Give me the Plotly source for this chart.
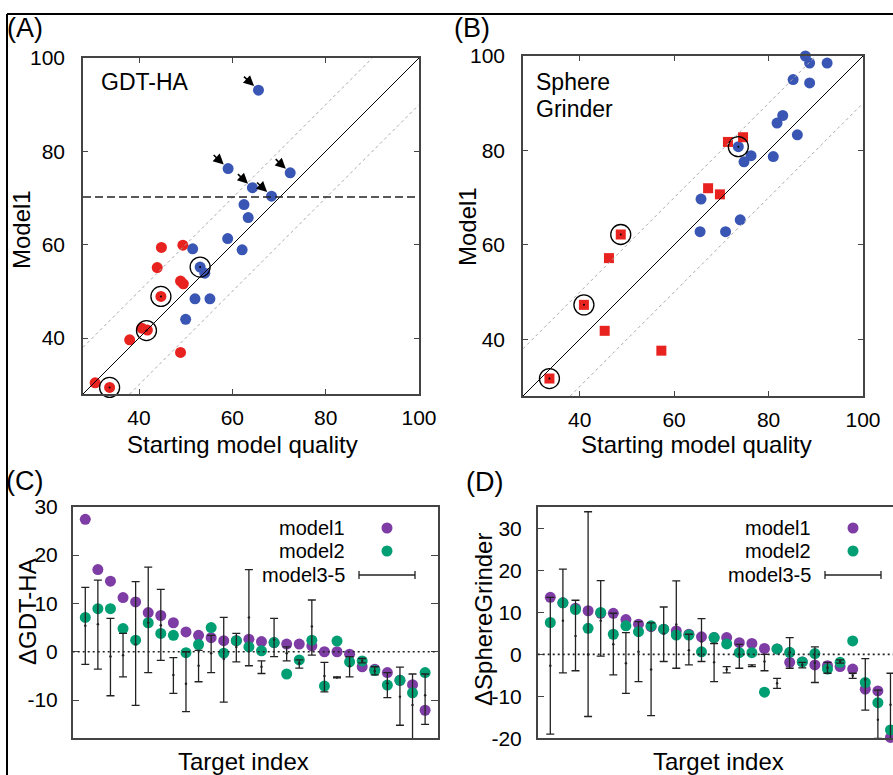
import plotly.graph_objects as go

W, H = 893, 775

# ---------------- data ----------------
# Panel A: GDT-HA, starting model quality vs Model1
a_blue_x = [65.6, 59.1, 72.4, 64.3, 68.4, 62.5, 63.4, 59.0, 62.1, 51.5, 53.1, 54.1, 52.0, 55.2, 50.0]
a_blue_y = [93.1, 76.3, 75.4, 72.2, 70.4, 68.6, 65.8, 61.3, 58.9, 59.1, 55.2, 53.9, 48.4, 48.4, 44.0]
a_red_x = [44.8, 49.4, 43.9, 48.9, 49.5, 44.7, 40.6, 41.8, 38.0, 48.9, 30.6, 33.7]
a_red_y = [59.4, 59.9, 55.1, 52.2, 51.6, 48.9, 42.1, 41.7, 39.6, 36.9, 30.4, 29.4]
a_circled_x = [53.1, 44.7, 41.6, 33.7]
a_circled_y = [55.2, 48.9, 41.6, 29.4]
a_arrow_x = [65.6, 59.1, 72.4, 64.3, 68.4]
a_arrow_y = [93.1, 76.3, 75.4, 72.2, 70.4]
a_threshold = 70.2

# Panel B: SphereGrinder
b_blue_x = [87.8, 88.7, 92.4, 85.2, 88.7, 83.0, 81.8, 86.1, 73.6, 76.3, 74.8, 81.0, 65.7, 65.5, 70.9, 74.0]
b_blue_y = [100.0, 98.5, 98.5, 95.0, 94.3, 87.4, 85.8, 83.3, 80.8, 78.9, 77.6, 78.7, 69.7, 62.8, 62.8, 65.3]
b_red_x = [71.4, 74.6, 67.2, 69.7, 48.7, 46.2, 40.9, 45.3, 57.3, 33.6]
b_red_y = [81.8, 82.8, 72.0, 70.7, 62.2, 57.2, 47.3, 41.8, 37.6, 31.7]
b_circled_x = [73.6, 48.7, 40.9, 33.6]
b_circled_y = [80.8, 62.2, 47.3, 31.7]

diag_offset = 10
sq_ticks = [40, 60, 80, 100]

# Panel C: delta GDT-HA per target
c_index = list(range(1, 29))
c_model1 = [27.4, 17.0, 14.6, 11.2, 10.3, 8.1, 7.5, 6.0, 4.1, 3.4, 2.9, 2.3, 2.3, 2.6, 2.1,
            1.9, 1.6, 1.6, 1.2, 0.0, 0.0, -0.5, -3.1, -3.6, -4.3, -5.9, -6.8, -12.1]
c_model2 = [7.1, 8.9, 8.9, 4.8, 2.4, 6.0, 3.8, 3.4, -0.2, 1.5, 5.0, -0.3, 2.3, 1.0, 0.2,
            1.9, -4.6, -1.7, 2.4, -7.1, 2.2, -2.1, -1.9, -3.9, -6.9, -5.9, -8.5, -4.3]
c_m35_mid = [5.4, 5.7, -1.0, -0.7, 1.5, 6.0, 5.5, -4.8, -6.6, -2.9, -0.3, -1.5, 1.0, 7.1,
             -3.1, 2.5, -0.3, -2.4, 5.2, -5.0, -5.3, -3.0, -1.9, -4.0, -6.5, -9.3, -11.0, -9.0]
c_m35_hi = [13.3, 14.8, 6.9, 3.8, 14.5, 17.5, 12.9, -1.2, 0.0, 0.3, 3.4, 7.1, 3.8, 17.0,
            -1.9, 6.9, 1.0, -1.7, 10.7, -2.2, -5.2, -1.0, -1.4, -3.1, -4.3, -3.2, -4.6, -4.6]
c_m35_lo = [-2.6, -3.6, -9.1, -5.2, -11.1, -4.3, -1.8, -8.6, -12.4, -6.2, -4.3, -10.4, -2.1, -2.9,
            -4.5, -1.0, -1.9, -3.4, -0.7, -8.3, -5.4, -5.2, -2.3, -4.8, -9.5, -15.2, -20.0, -15.0]
c_ticks = [-10, 0, 10, 20, 30]

# Panel D: delta SphereGrinder per target
d_index = list(range(1, 29))
d_model1 = [13.6, 12.3, 11.0, 10.4, 9.8, 9.8, 8.3, 7.2, 6.6, 6.0, 5.6, 4.8, 4.2, 4.0, 4.0,
            2.8, 2.6, 1.4, 1.3, -1.9, -1.8, -2.5, -2.7, -2.9, -3.5, -8.3, -8.7, -19.8]
d_model2 = [7.6, 12.3, 10.7, 6.2, 10.0, 4.8, 6.8, 5.4, 6.8, 6.0, 4.6, 4.6, 0.6, 4.0, 2.5,
            0.4, 0.4, -9.0, 1.3, 0.5, -1.8, 0.2, -3.5, -1.9, 3.2, -6.7, -11.5, -18.0]
d_m35_mid = [-2.7, 8.0, 4.4, 0.0, 8.0, 2.4, -2.1, 0.6, -3.6, 5.0, 7.1, 1.0, 3.0, -1.9, -3.6,
             0.0, -2.7, -1.7, -6.9, 0.5, -2.5, -2.0, -3.2, -1.7, -5.1, -6.0, -15.6, -12.0]
d_m35_hi = [13.6, 20.3, 12.9, 34.0, 17.6, 9.8, 5.2, 7.8, 7.5, 11.3, 17.5, 4.8, 8.5, 2.6, -2.9,
            2.4, -2.5, 0.0, -5.7, 4.0, -1.9, 1.8, -1.9, -1.3, -4.5, -1.0, -8.5, -4.5]
d_m35_lo = [-19.0, -4.4, -3.9, -14.8, -0.4, -4.9, -9.3, -6.5, -14.6, -1.7, -3.3, -2.5, -1.7, -6.5, -4.4,
            -3.3, -2.9, -3.9, -8.1, -3.3, -3.2, -6.7, -4.5, -2.1, -5.7, -13.3, -20.0, -21.0]
d_ticks = [-20, -10, 0, 10, 20, 30]

legend_labels = ["model1", "model2", "model3-5"]

# ---------------- style ----------------
BLUE = "#3a56b4"
RED = "#e8221e"
PURPLE = "#7e3da4"
GREEN = "#009e73"
FONT = "Liberation Sans, Arial, sans-serif"
TICK_FONT = dict(family=FONT, size=21, color="black")
FRAME = "#444444"


def px(x):
    return x / W


def py(y):
    return 1 - y / H


fig = go.Figure()

# ---- Panel A ----
fig.add_trace(go.Scatter(x=a_blue_x, y=a_blue_y, mode="markers", xaxis="x", yaxis="y",
                         marker=dict(size=11, color=BLUE), cliponaxis=False, showlegend=False))
fig.add_trace(go.Scatter(x=a_red_x, y=a_red_y, mode="markers", xaxis="x", yaxis="y",
                         marker=dict(size=11, color=RED), cliponaxis=False, showlegend=False))
fig.add_trace(go.Scatter(x=a_circled_x, y=a_circled_y, mode="markers", xaxis="x", yaxis="y",
                         marker=dict(size=20, symbol="circle-open", color="black",
                                     line=dict(width=1.3, color="black")),
                         cliponaxis=False, showlegend=False))

# ---- Panel B ----
fig.add_trace(go.Scatter(x=b_blue_x, y=b_blue_y, mode="markers", xaxis="x2", yaxis="y2",
                         marker=dict(size=11, color=BLUE), cliponaxis=False, showlegend=False))
fig.add_trace(go.Scatter(x=b_red_x, y=b_red_y, mode="markers", xaxis="x2", yaxis="y2",
                         marker=dict(size=10, symbol="square", color=RED), cliponaxis=False,
                         showlegend=False))
fig.add_trace(go.Scatter(x=b_circled_x, y=b_circled_y, mode="markers", xaxis="x2", yaxis="y2",
                         marker=dict(size=20, symbol="circle-open", color="black",
                                     line=dict(width=1.3, color="black")),
                         cliponaxis=False, showlegend=False))
# tiny centre dots of the circled points
for xa, ya, cx, cy in (("x", "y", a_circled_x, a_circled_y), ("x2", "y2", b_circled_x, b_circled_y)):
    fig.add_trace(go.Scatter(x=cx, y=cy, mode="markers", xaxis=xa, yaxis=ya,
                             marker=dict(size=2, color="black"), cliponaxis=False, showlegend=False))


def delta_panel(xa, ya, idx, m1, m2, mid, hi, lo):
    fig.add_trace(go.Scatter(x=idx, y=m1, mode="markers", xaxis=xa, yaxis=ya,
                             marker=dict(size=11, color=PURPLE), cliponaxis=False, showlegend=False))
    fig.add_trace(go.Scatter(x=idx, y=m2, mode="markers", xaxis=xa, yaxis=ya,
                             marker=dict(size=11, color=GREEN), cliponaxis=False, showlegend=False))
    fig.add_trace(go.Scatter(
        x=idx, y=mid, mode="markers", xaxis=xa, yaxis=ya,
        marker=dict(size=2.5, color="#222222"),
        error_y=dict(type="data", symmetric=False,
                     array=[h - m for h, m in zip(hi, mid)],
                     arrayminus=[m - l for m, l in zip(mid, lo)],
                     color="#222222", thickness=1.3, width=4),
        showlegend=False))


delta_panel("x3", "y3", c_index, c_model1, c_model2, c_m35_mid, c_m35_hi, c_m35_lo)
delta_panel("x4", "y4", d_index, d_model1, d_model2, d_m35_mid, d_m35_hi, d_m35_lo)

# ---------------- axes ----------------
sq_axis = dict(range=[28, 100], tickvals=sq_ticks, ticktext=[str(v) for v in sq_ticks],
               ticks="inside", ticklen=5,
               tickcolor=FRAME, mirror="allticks", showline=True, linecolor=FRAME, linewidth=1.5,
               showgrid=False, zeroline=False, tickfont=TICK_FONT)

layout_axes = dict(
    xaxis=dict(sq_axis, domain=[px(83), px(419)], anchor="y", ticklabelstandoff=4),
    yaxis=dict(sq_axis, domain=[py(394), py(58)], anchor="x", ticklabelstandoff=12),
    xaxis2=dict(sq_axis, domain=[px(523), px(863)], anchor="y2", ticklabelstandoff=4),
    yaxis2=dict(sq_axis, domain=[py(396), py(56)], anchor="x2", ticklabelstandoff=12),
    xaxis3=dict(domain=[px(72.7), px(437.7)], anchor="y3", range=[0, 29], showticklabels=False,
                ticks="", showline=True, mirror=True, linecolor=FRAME, linewidth=1.5,
                showgrid=False, zeroline=False),
    yaxis3=dict(domain=[py(738.3), py(506.7)], anchor="x3", range=[-17.9, 30],
                tickvals=c_ticks, ticktext=[str(v) for v in c_ticks],
                ticks="inside", ticklen=7, tickcolor=FRAME,
                mirror="allticks", showline=True, linecolor=FRAME, linewidth=1.5,
                showgrid=False, zeroline=False, tickfont=TICK_FONT, ticklabelstandoff=9),
    xaxis4=dict(domain=[px(537.7), 1.0], anchor="y4", range=[0, 28.2], showticklabels=False,
                ticks="", showline=True, mirror=True, linecolor=FRAME, linewidth=1.5,
                showgrid=False, zeroline=False),
    yaxis4=dict(domain=[py(738.3), py(506.7)], anchor="x4", range=[-20, 35.2],
                tickvals=d_ticks, ticktext=[str(v) for v in d_ticks],
                ticks="inside", ticklen=7, tickcolor=FRAME,
                mirror=False, showline=True, linecolor=FRAME, linewidth=1.5,
                showgrid=False, zeroline=False, tickfont=TICK_FONT, ticklabelstandoff=10),
)

# ---------------- shapes ----------------
shapes = []
for xr, yr in (("x", "y"), ("x2", "y2")):
    shapes.append(dict(type="line", xref=xr, yref=yr, x0=28, y0=28, x1=100, y1=100,
                       line=dict(color="black", width=1)))
    shapes.append(dict(type="line", xref=xr, yref=yr, x0=28, y0=28 + diag_offset,
                       x1=100 - diag_offset, y1=100, line=dict(color="#aaaaaa", width=1, dash="dot")))
    shapes.append(dict(type="line", xref=xr, yref=yr, x0=28 + diag_offset, y0=28,
                       x1=100, y1=100 - diag_offset, line=dict(color="#aaaaaa", width=1, dash="dot")))
shapes.append(dict(type="line", xref="x domain", yref="y", x0=0, x1=1, y0=a_threshold, y1=a_threshold,
                   line=dict(color="#222222", width=1.6, dash="8px,4px")))
for xr, yr in (("x3 domain", "y3"), ("x4 domain", "y4")):
    shapes.append(dict(type="line", xref=xr, yref=yr, x0=0, x1=1, y0=0, y1=0,
                       line=dict(color="#222222", width=1.6, dash="2px,3px")))

# figure frame lines
shapes.append(dict(type="line", xref="paper", yref="paper", x0=px(7), x1=1, y0=py(14), y1=py(14),
                   line=dict(color="black", width=2)))
shapes.append(dict(type="line", xref="paper", yref="paper", x0=px(7), x1=px(7), y0=0, y1=py(14),
                   line=dict(color="black", width=2)))

# custom legends (text left, symbol right)
annotations = []
LEG_FONT = dict(family=FONT, size=20, color="black")
for text_right, sym_x, bar_x0, bar_x1 in ((347, 387, 359, 415), (813, 853, 825, 881)):
    rows = [528, 551, 575]
    for lab, ry in zip(legend_labels, rows):
        annotations.append(dict(text=lab, xref="paper", yref="paper", x=px(text_right), y=py(ry),
                                xanchor="right", yanchor="middle", showarrow=False, font=LEG_FONT))
    for col, ry in ((PURPLE, rows[0]), (GREEN, rows[1])):
        shapes.append(dict(type="circle", xref="paper", yref="paper", xsizemode="pixel",
                           ysizemode="pixel", xanchor=px(sym_x), yanchor=py(ry),
                           x0=-5.5, x1=5.5, y0=-5.5, y1=5.5, fillcolor=col, line=dict(width=0)))
    ry = rows[2]
    shapes.append(dict(type="line", xref="paper", yref="paper", x0=px(bar_x0), x1=px(bar_x1),
                       y0=py(ry), y1=py(ry), line=dict(color="#222222", width=1.3)))
    for bx in (bar_x0, bar_x1):
        shapes.append(dict(type="line", xref="paper", yref="paper", x0=px(bx), x1=px(bx),
                           y0=py(ry - 4), y1=py(ry + 4), line=dict(color="#222222", width=1.3)))

# arrows in panel A
for ax_, ay_ in zip(a_arrow_x, a_arrow_y):
    annotations.append(dict(x=ax_, y=ay_, xref="x", yref="y", text="", showarrow=True,
                            ax=-16, ay=-15, arrowhead=2, arrowsize=1.3, arrowwidth=1.6,
                            arrowcolor="black", standoff=6))

TITLE_FONT = dict(family=FONT, size=24, color="black")
INSET_FONT = dict(family=FONT, size=23, color="black")
LABEL_FONT = dict(family=FONT, size=27, color="black")


def text(t, x, y, font, xanchor="center", angle=0):
    annotations.append(dict(text=t, xref="paper", yref="paper", x=px(x), y=py(y), xanchor=xanchor,
                            yanchor="middle", showarrow=False, font=font, textangle=angle))


text("(A)", 5, 28, LABEL_FONT, "left")
text("(B)", 452, 28, LABEL_FONT, "left")
text("(C)", 4, 481, LABEL_FONT, "left")
text("(D)", 464, 482, LABEL_FONT, "left")
text("GDT-HA", 99, 82, INSET_FONT, "left")
text("Sphere", 534, 82, INSET_FONT, "left")
text("Grinder", 534, 109, INSET_FONT, "left")
text("Starting model quality", 242, 444, TITLE_FONT)
text("Starting model quality", 696, 444, TITLE_FONT)
text("Model1", 22, 230, TITLE_FONT, angle=-90)
text("Model1", 467, 227, TITLE_FONT, angle=-90)
text("Target index", 244, 761, TITLE_FONT)
text("Target index", 718, 761, TITLE_FONT)
text("ΔGDT-HA", 27, 612, TITLE_FONT, angle=-90)
text("ΔSphereGrinder", 483, 620, TITLE_FONT, angle=-90)

fig.update_layout(
    width=W, height=H, margin=dict(l=0, r=0, t=0, b=0, autoexpand=False),
    paper_bgcolor="white", plot_bgcolor="white",
    font=dict(family=FONT, color="black"),
    shapes=shapes, annotations=annotations, showlegend=False,
    **layout_axes,
)

fig.write_html(
    "out.html",
    config={"displayModeBar": False},
    post_script="document.body.style.margin='0';"
                "document.documentElement.style.overflow='hidden';document.body.style.overflow='hidden';",
)
